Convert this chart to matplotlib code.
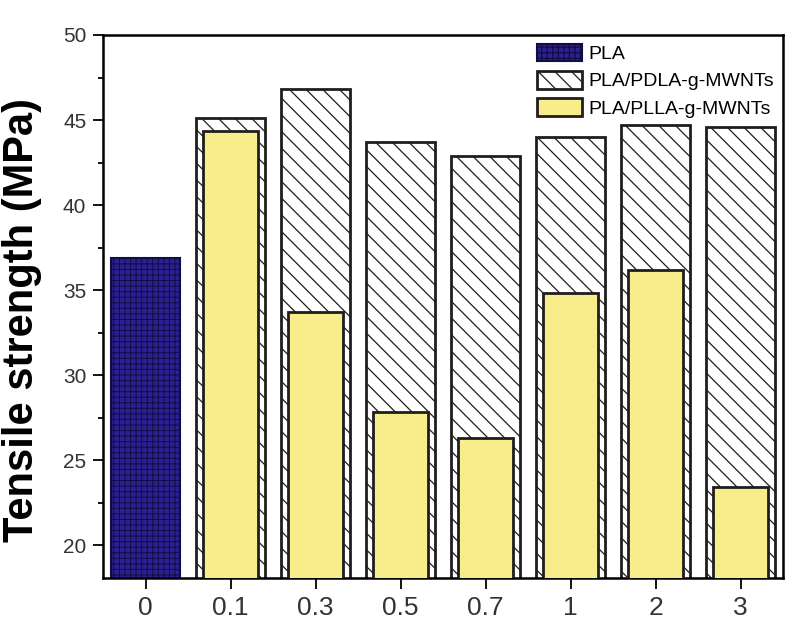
import matplotlib
matplotlib.use('Agg')
import matplotlib.pyplot as plt
import numpy as np

# Data
categories = ['0', '0.1', '0.3', '0.5', '0.7', '1', '2', '3']
pla = [36.9]
pdla = [45.1, 46.8, 43.7, 42.9, 44.0, 44.7, 44.6]
plla = [44.35, 33.7, 27.8, 26.3, 34.8, 36.2, 23.4]
labels = ['PLA', 'PLA/PDLA-g-MWNTs', 'PLA/PLLA-g-MWNTs']

plt.rcParams['font.family'] = ['Liberation Sans', 'DejaVu Sans']
plt.rcParams['axes.linewidth'] = 1.8

fig = plt.figure(figsize=(8, 6.34), dpi=100)
ax = fig.add_axes([103 / 800, 56 / 634, 680 / 800, 543 / 634])

x = np.arange(len(categories))

# PLA: navy with fine dark grid
plt.rcParams['hatch.linewidth'] = 0.7
b1 = ax.bar(x[:1], pla, width=0.82, color='#2b2090', edgecolor='#120c45',
            hatch='+++', linewidth=1.5, label=labels[0], zorder=2)

# PDLA: white with diagonal hatch
plt.rcParams['hatch.linewidth'] = 0.9
b2 = ax.bar(x[1:], pdla, width=0.81, color='white', edgecolor='#1e1e1e',
            hatch='\\\\', linewidth=2.0, label=labels[1], zorder=2)

# PLLA: yellow, drawn inside the hatched bars
b3 = ax.bar(x[1:], plla, width=0.64, color='#f9ec8a', edgecolor='#1e1e1e',
            linewidth=2.0, label=labels[2], zorder=3)

ax.set_xlim(-0.5, 7.5)
ax.set_ylim(18.06, 50)
ax.set_xticks(x)
ax.set_xticklabels(categories, fontsize=19, color='#333333')
ax.set_yticks(np.arange(20, 51, 5))
ax.set_yticks(np.arange(22.5, 50, 5), minor=True)
ax.tick_params(axis='y', which='major', direction='out', length=7, width=1.3,
               labelsize=15, labelcolor='#333333', pad=5)
ax.tick_params(axis='y', which='minor', direction='out', length=3.5, width=1.3)
ax.tick_params(axis='x', which='major', direction='out', length=8, width=1.3, pad=5)
ax.tick_params(axis='x', which='minor', bottom=False)

ax.set_ylabel('Tensile strength (MPa)', fontsize=30, fontweight='bold')
ax.yaxis.set_label_coords(-0.09, 0.475)

ax.legend(handles=[b1, b2, b3], labels=labels, loc='upper left',
          bbox_to_anchor=(537 / 800, 1 - 44 / 634), bbox_transform=fig.transFigure,
          frameon=False, fontsize=14, borderpad=0, borderaxespad=0,
          handlelength=2.3, handleheight=1.0, handletextpad=0.35,
          labelspacing=0.4)

fig.savefig('out.png', dpi=100)
